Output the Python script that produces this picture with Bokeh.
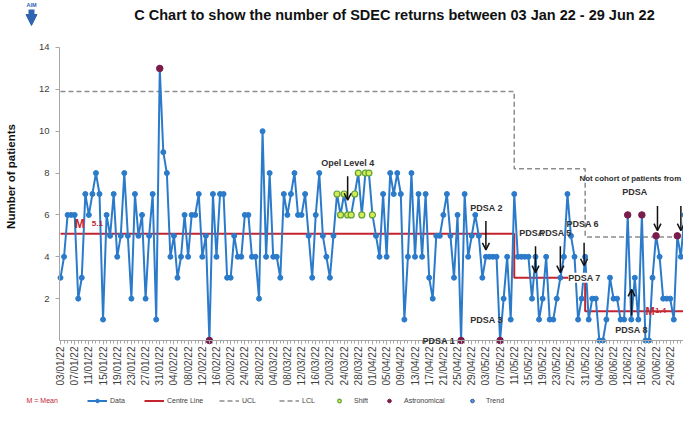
import math
import datetime as dt
from bokeh.plotting import figure
from bokeh.models import (Range1d, FixedTicker, Label, Arrow, OpenHead, NormalHead,
                          Legend, LegendItem)
from bokeh.embed import file_html
from bokeh.resources import INLINE

# ---------------- data ----------------
start_date = dt.date(2022, 1, 3)
counts = [3, 4, 6, 6, 6, 2, 3, 7, 6, 7,
          8, 7, 1, 6, 5, 7, 4, 5, 8, 5,
          2, 7, 5, 6, 2, 5, 7, 1, 13, 9,
          8, 4, 5, 3, 4, 6, 4, 6, 6, 7,
          4, 5, 0, 7, 4, 7, 7, 3, 3, 5,
          4, 4, 6, 6, 4, 4, 2, 10, 4, 8,
          4, 4, 3, 7, 6, 7, 8, 6, 6, 7,
          5, 3, 6, 8, 5, 4, 3, 5, 7, 6,
          7, 6, 6, 7, 8, 6, 8, 8, 6, 5,
          4, 7, 4, 8, 7, 8, 7, 1, 4, 8,
          4, 7, 4, 7, 3, 2, 5, 5, 6, 7,
          5, 3, 6, 0, 7, 4, 5, 6, 5, 3,
          4, 4, 4, 4, 0, 2, 4, 1, 7, 4,
          4, 4, 4, 2, 4, 1, 2, 4, 1, 1,
          2, 3, 4, 7, 5, 4, 1, 2, 4, 1,
          2, 2, 0, 0, 1, 3, 2, 2, 1, 1,
          6, 1, 3, 1, 6, 0, 0, 3, 5, 4,
          2, 2, 2, 1, 5, 4, 6, 5]
days = list(range(len(counts)))
date_labels = [(start_date + dt.timedelta(days=d)).strftime("%d/%m/%y") for d in days]
label_every = 4
y_ticks = [2, 4, 6, 8, 10, 12, 14]

phase_start = [0, 128, 148]
phase_end = [128, 148, 177]
phase_mean = [5.1, 3.0, 1.4]
phase_ucl = [11.9, 8.2, 4.95]

shift_idx = list(range(78, 89))
astro_idx = [28, 42, 113, 124, 160, 164, 168, 174]

title_text = "C Chart to show the number of SDEC returns between 03 Jan 22 - 29 Jun 22"

# ---------------- colours ----------------
BLUE = "#2b7bca"
RED = "#c42430"
GREY = "#8c8c8c"
AXIS = "#a6a6a6"
PURPLE = "#7a1d4b"
GREEN_FILL = "#d6ea55"
GREEN_LINE = "#5fa33a"
ANN = "#303030"
FONT = "Liberation Sans"
NAN = float("nan")

# The frame fills the whole canvas (screenshot x 8..691, y 8..422);
# axes are pinned inside it with fixed_location.
W, H = 683, 414
PX_DAY = 3.545     # pixels per day
PX_VAL = 20.93     # pixels per count
X0_SS, Y0_SS = 68, 348   # screenshot position of (day 0, value 0)
x_lo = (8 - X0_SS) / PX_DAY
x_hi = (8 + W - X0_SS) / PX_DAY
y_lo = -(8 + H - Y0_SS) / PX_VAL
y_hi = (Y0_SS - 8) / PX_VAL

p = figure(width=W, height=H, output_backend="svg", toolbar_location=None,
           x_range=Range1d(x_lo, x_hi), y_range=Range1d(y_lo, y_hi),
           min_border_left=0, min_border_right=0, min_border_top=0,
           min_border_bottom=0)
p.xgrid.visible = False
p.ygrid.visible = False
p.outline_line_color = None

y_axis_x = (67 - X0_SS) / PX_DAY

# axes
xt = list(range(0, len(days), label_every))
xa = p.xaxis[0]
xa.fixed_location = 0
xa.bounds = (y_axis_x, x_hi)
xa.ticker = FixedTicker(ticks=xt, minor_ticks=days)
xa.major_label_overrides = {d: date_labels[d] for d in xt}
xa.major_label_orientation = math.pi / 2
xa.major_label_text_font = FONT
xa.major_label_text_font_size = "10px"
xa.major_label_text_color = "#404040"
xa.major_tick_out = 4
xa.major_tick_in = 0
xa.minor_tick_out = 3
xa.minor_tick_in = 0
xa.axis_line_color = AXIS
xa.major_tick_line_color = AXIS
xa.minor_tick_line_color = AXIS
xa.major_label_standoff = 2

ya = p.yaxis[0]
ya.fixed_location = y_axis_x
ya.bounds = (0, 14)
ya.ticker = FixedTicker(ticks=y_ticks, minor_ticks=[])
ya.major_label_text_font = FONT
ya.major_label_text_font_size = "9.5px"
ya.major_label_text_color = "#404040"
ya.major_tick_out = 4
ya.major_tick_in = 0
ya.axis_line_color = AXIS
ya.major_tick_line_color = AXIS
ya.major_label_standoff = 6

# step lines built from phases
def steps(vals):
    xs, ys = [], []
    for s, e, v in zip(phase_start, phase_end, vals):
        xs += [s, e]
        ys += [v, v]
    return xs, ys

ux, uy = steps(phase_ucl)
cx, cy = steps(phase_mean)
ucl_r = p.line(ux, uy, line_color=GREY, line_width=1.5, line_dash="5 3")
# LCL is below zero for every phase, so it has no visible points
lcl_r = p.line([0, 1], [NAN, NAN], line_color=GREY, line_width=1.5, line_dash="5 3")
cl_r = p.line(cx, cy, line_color=RED, line_width=2)

data_line = p.line(days, counts, line_color=BLUE, line_width=2)
data_pts = p.scatter(days, counts, size=5, fill_color=BLUE, line_color=BLUE)
shift_r = p.scatter([days[i] for i in shift_idx], [counts[i] for i in shift_idx],
                    size=6, fill_color=GREEN_FILL, line_color=GREEN_LINE, line_width=1.2)
astro_r = p.scatter([days[i] for i in astro_idx], [counts[i] for i in astro_idx],
                    size=6.5, fill_color=PURPLE, line_color=PURPLE)
trend_r = p.scatter([0], [NAN], size=6, fill_color="#5b9bd5", line_color="#2f5597")

# ---------------- text ----------------
def slabel(x, y, text, **kw):
    # x, y in screenshot pixels
    opts = dict(x_units="screen", y_units="screen", text_font=FONT)
    opts.update(kw)
    p.add_layout(Label(x=x - 8, y=8 + H - y, text=text, **opts))

def dlabel(x, y, text, size="9px", color=ANN, align="center", style="bold", **kw):
    p.add_layout(Label(x=x, y=y, text=text, text_font=FONT, text_font_size=size,
                       text_color=color, text_align=align, text_baseline="middle",
                       text_font_style=style, **kw))

def darrow(x, y0, y1, w=1.5):
    p.add_layout(Arrow(x_start=x, y_start=y0, x_end=x, y_end=y1, line_color="#111111",
                       line_width=w, end=OpenHead(size=7, line_color="#111111", line_width=w)))

slabel(402, 22, title_text, text_align="center", text_baseline="middle",
       text_font_size="14.5px", text_font_style="bold", text_color="#111111")
slabel(18, 184, "Number of patients", angle=math.pi / 2, text_align="center",
       text_baseline="middle", text_font_size="11.5px", text_font_style="bold",
       text_color="#111111")

# AIM marker
slabel(39, 12, "AIM", text_align="center", text_baseline="middle",
       text_font_size="5.5px", text_font_style="bold", text_color="#2e64b0")
p.add_layout(Arrow(x_start=39 - 8, y_start=8 + H - 17, x_end=39 - 8, y_end=8 + H - 33,
                   start_units="screen", end_units="screen", line_color="#2e64b0",
                   line_width=6, end=NormalHead(size=11, fill_color="#2e64b0",
                                                line_color="#2e64b0")))

# annotations
dlabel(81, 8.48, "Opel Level 4")
darrow(81, 7.85, 6.7)
dlabel(113, 0, "PDSA 1", align="right", x_offset=-6)
dlabel(120.2, 6.33, "PDSA 2")
darrow(120, 5.71, 4.33)
dlabel(120.2, 1.0, "PDSA 3")
dlabel(132.9, 5.14, "PDSA")
dlabel(139.6, 5.14, "PDSA 5")
darrow(134, 4.5, 3.24)
darrow(141, 4.5, 3.24)
dlabel(147.3, 5.59, "PDSA 6")
darrow(147.7, 4.67, 3.57)
dlabel(147.8, 3.0, "PDSA 7", background_fill_color="white")
dlabel(161.1, 0.52, "PDSA 8")
darrow(161.1, 1.2, 2.44)
slabel(587, 186, "Not cohort of patients from", text_align="left",
       text_baseline="middle", text_font_size="7.9px", text_font_style="bold",
       text_color=ANN)
dlabel(162.0, 7.1, "PDSA")
darrow(168.4, 6.43, 5.25)
darrow(175.0, 6.43, 5.25)

# mean labels
dlabel(5.4, 5.57, "M", size="12px", color=RED)
dlabel(10.4, 5.6, "5.1", size="8px", color=RED)
dlabel(166.3, 1.43, "M", size="11px", color=RED)
dlabel(169.3, 1.43, "1.4", size="8px", color=RED)

# ---------------- legend ----------------
slabel(34, 408, "M = Mean", text_align="left", text_baseline="middle",
       text_font_size="7px", text_color=RED)

def add_legend(label, renderers, x_ss, gw, standoff=3):
    lg = Legend(items=[LegendItem(label=label, renderers=renderers)],
                location=(x_ss - 8, 8 + H - 413), orientation="horizontal",
                glyph_width=gw, glyph_height=9, label_height=9, padding=0, margin=0,
                spacing=0, label_standoff=standoff, label_text_font=FONT,
                label_text_font_size="7px", label_text_color="#404040",
                border_line_color=None, background_fill_alpha=0)
    p.add_layout(lg)

add_legend("Data", [data_line, data_pts], 95, 20)
add_legend("Centre Line", [cl_r], 152, 20)
add_legend("UCL", [ucl_r], 227, 20)
add_legend("LCL", [lcl_r], 287, 20)
add_legend("Shift", [shift_r], 337, 20, 5)
add_legend("Astronomical", [astro_r], 387, 20, 5)
add_legend("Trend", [trend_r], 470, 20, 4)

open("out.html", "w").write(file_html(p, INLINE))
